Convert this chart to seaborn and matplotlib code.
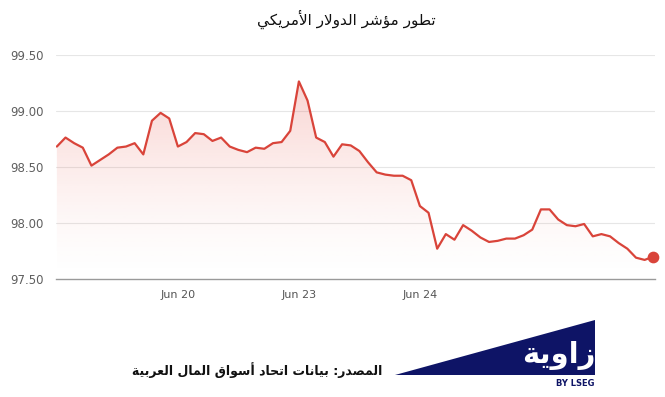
# plot.py
# Recreates the "US dollar index" intraday chart (Zawya style) with seaborn.

import numpy as np
import pandas as pd
import matplotlib
matplotlib.use("Agg")
import matplotlib.pyplot as plt
from matplotlib.colors import to_rgb
from matplotlib.patches import Polygon
import seaborn as sns

# ---- data ----
TICK_LABELS = ["Jun 20", "Jun 23", "Jun 24"]
POINTS_PER_DAY = 14
DXY_VALUES = [
    98.68, 98.76, 98.71, 98.67, 98.51, 98.56, 98.61, 98.67, 98.68, 98.71,
    98.61, 98.91, 98.98, 98.93, 98.68, 98.72, 98.80, 98.79, 98.73, 98.76,
    98.68, 98.65, 98.63, 98.67, 98.66, 98.71, 98.72, 98.82, 99.26, 99.09,
    98.76, 98.72, 98.59, 98.70, 98.69, 98.64, 98.54, 98.45, 98.43, 98.42,
    98.42, 98.38, 98.15, 98.09, 97.77, 97.90, 97.85, 97.98, 97.93, 97.87,
    97.83, 97.84, 97.86, 97.86, 97.89, 97.94, 98.12, 98.12, 98.03, 97.98,
    97.97, 97.99, 97.88, 97.90, 97.88, 97.82, 97.77, 97.69, 97.67, 97.70,
]
Y_TICKS = [97.50, 98.00, 98.50, 99.00, 99.50]

TITLE = "تطور مؤشر الدولار الأمريكي"
SOURCE = "المصدر: بيانات اتحاد أسواق المال العربية"
LOGO = "زاوية"

LINE_COLOR = "#d9443a"
NAVY = "#0e1466"

# ---- minimal Arabic shaping (matplotlib has no complex text layout) ----
# char -> (isolated, final, initial, medial); two-form letters do not join left
FORMS = {
    "ا": ("\uFE8D", "\uFE8E"), "أ": ("\uFE83", "\uFE84"), "ؤ": ("\uFE85", "\uFE86"),
    "ب": ("\uFE8F", "\uFE90", "\uFE91", "\uFE92"), "ة": ("\uFE93", "\uFE94"),
    "ت": ("\uFE95", "\uFE96", "\uFE97", "\uFE98"), "ح": ("\uFEA1", "\uFEA2", "\uFEA3", "\uFEA4"),
    "د": ("\uFEA9", "\uFEAA"), "ر": ("\uFEAD", "\uFEAE"), "ز": ("\uFEAF", "\uFEB0"),
    "س": ("\uFEB1", "\uFEB2", "\uFEB3", "\uFEB4"), "ش": ("\uFEB5", "\uFEB6", "\uFEB7", "\uFEB8"),
    "ص": ("\uFEB9", "\uFEBA", "\uFEBB", "\uFEBC"), "ط": ("\uFEC1", "\uFEC2", "\uFEC3", "\uFEC4"),
    "ع": ("\uFEC9", "\uFECA", "\uFECB", "\uFECC"), "ق": ("\uFED5", "\uFED6", "\uFED7", "\uFED8"),
    "ك": ("\uFED9", "\uFEDA", "\uFEDB", "\uFEDC"), "ل": ("\uFEDD", "\uFEDE", "\uFEDF", "\uFEE0"),
    "م": ("\uFEE1", "\uFEE2", "\uFEE3", "\uFEE4"), "ن": ("\uFEE5", "\uFEE6", "\uFEE7", "\uFEE8"),
    "و": ("\uFEED", "\uFEEE"), "ي": ("\uFEF1", "\uFEF2", "\uFEF3", "\uFEF4"),
}
LAM_ALEF = {"ا": ("\uFEFB", "\uFEFC"), "أ": ("\uFEF7", "\uFEF8")}


def shape_arabic(text):
    tokens = []
    i = 0
    while i < len(text):
        c = text[i]
        if c == "ل" and i + 1 < len(text) and text[i + 1] in LAM_ALEF:
            tokens.append(LAM_ALEF[text[i + 1]])
            i += 2
        else:
            tokens.append(FORMS.get(c, c))
            i += 1

    def joins_left(t):
        return isinstance(t, tuple) and len(t) == 4

    def joins_right(t):
        return isinstance(t, tuple)

    out = []
    for k, t in enumerate(tokens):
        if not isinstance(t, tuple):
            out.append(t)
            continue
        prev = k > 0 and joins_left(tokens[k - 1])
        nxt = k + 1 < len(tokens) and joins_left(t) and joins_right(tokens[k + 1])
        if prev and nxt:
            out.append(t[3])
        elif prev:
            out.append(t[1])
        elif nxt:
            out.append(t[2])
        else:
            out.append(t[0])
    return "".join(reversed(out))


sns.set_style("white")
plt.rcParams["font.family"] = ["DejaVu Sans"]

df = pd.DataFrame({"idx": np.arange(len(DXY_VALUES)), "value": DXY_VALUES})

fig = plt.figure(figsize=(6.65, 3.97), dpi=100)
ax = fig.add_axes([56 / 665, 1 - 279 / 397, 599 / 665, 224.5 / 397])

x0, x1 = -0.1, len(DXY_VALUES) - 1 + 0.2
ymin, ymax = Y_TICKS[0], Y_TICKS[-1]

# gradient fill under the line
grad = np.linspace(0, 1, 256).reshape(-1, 1)
rgba = np.zeros((256, 1, 4))
rgba[..., :3] = to_rgb("#e8554a")
rgba[..., 3] = 0.30 * grad ** 1.4
im = ax.imshow(rgba, extent=[x0, x1, ymin, ymax], origin="lower",
               aspect="auto", zorder=1, interpolation="bilinear")
verts = np.column_stack([
    np.concatenate([df["idx"], df["idx"][::-1]]),
    np.concatenate([df["value"], np.full(len(df), ymin)]),
])
clip = Polygon(verts, closed=True, transform=ax.transData, facecolor="none", edgecolor="none")
ax.add_patch(clip)
im.set_clip_path(clip)

sns.lineplot(data=df, x="idx", y="value", ax=ax, color=LINE_COLOR, linewidth=1.6, zorder=3)
ax.scatter(df["idx"].iloc[-1], df["value"].iloc[-1], s=55, color=LINE_COLOR, zorder=4,
           clip_on=False)

ax.set_xlim(x0, x1)
ax.set_ylim(ymin, ymax)

# grid and axes styling
ax.set_yticks(Y_TICKS)
ax.set_yticklabels([f"{v:.2f}" for v in Y_TICKS])
for v in Y_TICKS[1:]:
    ax.axhline(v, color="#e6e6e6", linewidth=0.8, zorder=0)
ax.set_xticks([(k + 1) * POINTS_PER_DAY for k in range(len(TICK_LABELS))])
ax.set_xticklabels(TICK_LABELS)
ax.tick_params(axis="x", length=4, width=0.8, color="#777777", labelcolor="#555555",
               labelsize=8, pad=4)
ax.tick_params(axis="y", length=0, labelsize=8.5, labelcolor="#5f5f5f", pad=9)
for side in ["top", "right", "left"]:
    ax.spines[side].set_visible(False)
ax.spines["bottom"].set_color("#9a9a9a")
ax.spines["bottom"].set_linewidth(1.0)
ax.set_xlabel("")
ax.set_ylabel("")

# title and footer
fig.text(346 / 665, 1 - 19 / 397, shape_arabic(TITLE), ha="center", va="center",
         fontsize=11, color="#111111")
fig.text(382 / 665, 1 - 370 / 397, shape_arabic(SOURCE), ha="right", va="center",
         fontsize=9, fontweight="bold", color="#111111")

# logo: navy wedge with white word mark
wedge = Polygon([[395 / 665, 1 - 375 / 397], [595 / 665, 1 - 320 / 397],
                 [595 / 665, 1 - 375 / 397]], closed=True, transform=fig.transFigure,
                facecolor=NAVY, edgecolor="none")
fig.patches.append(wedge)
fig.text(596 / 665, 1 - 356 / 397, shape_arabic(LOGO), ha="right", va="center",
         fontsize=21, fontweight="bold", color="white")
fig.text(595 / 665, 1 - 384 / 397, "BY LSEG", ha="right", va="center",
         fontsize=6, fontweight="bold", color=NAVY)

fig.savefig("out.png", dpi=100)
